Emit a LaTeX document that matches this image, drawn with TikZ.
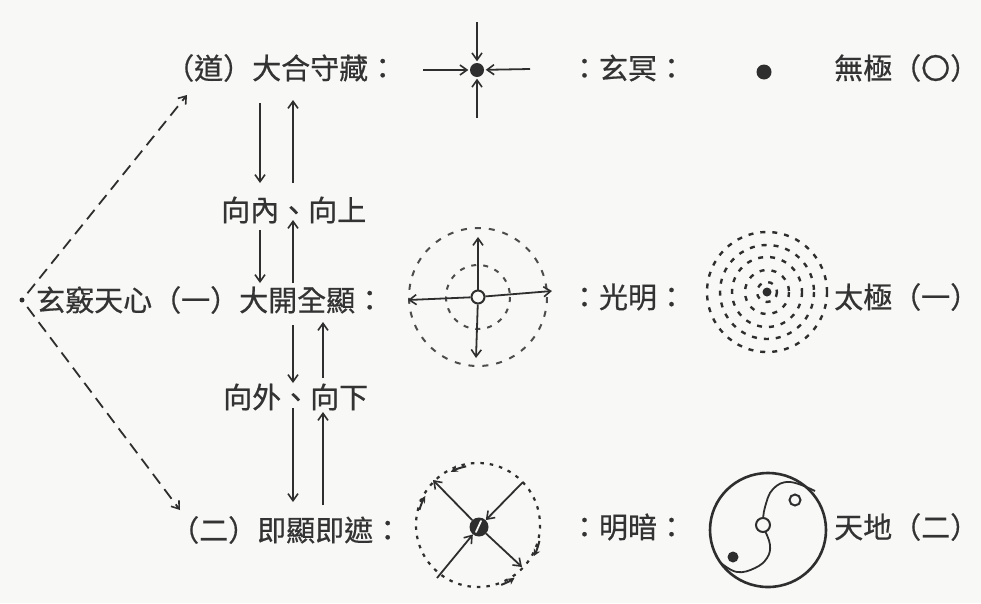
\documentclass[tikz,border=0pt]{standalone}
\usepackage{fontspec}
\newfontfamily\cjk[FakeBold=0.6]{Noto Sans CJK TC}
\usetikzlibrary{arrows.meta}
\definecolor{inkc}{HTML}{2E2E2E}
\definecolor{txtc}{HTML}{333333}
\definecolor{bgc}{HTML}{F8F8F6}
\begin{document}
\begin{tikzpicture}[x=1pt,y=-1pt,
  lbl/.style={font=\cjk\fontsize{29}{31}\selectfont, text=txtc, inner sep=0pt},
  ink/.style={draw=inkc, line width=1.8pt},
  arr/.style={ink, -{Straight Barb[length=7pt,width=10pt,line width=1.6pt]}},
  dasharr/.style={draw=inkc, line width=1.8pt, dash pattern=on 12pt off 7pt,
    -{Straight Barb[length=7pt,width=10pt,line width=1.6pt]}},
  dot/.style={circle, fill=inkc, inner sep=0pt, minimum size=#1},
  ring/.style={circle, draw=inkc, line width=2pt, fill=bgc, inner sep=0pt, minimum size=#1},
  dcirc/.style={draw=inkc!85, line width=2pt, dash pattern=on 6pt off 8pt},
  tring/.style={draw=inkc, line width=2.4pt, dash pattern=on 5pt off 7pt},
  rim/.style={draw=inkc, line width=2.2pt, dash pattern=on 3.5pt off 6pt},
  rimtip/.style={draw=inkc, line width=2pt, -{Stealth[length=7pt,width=7pt]}},
]
\fill[bgc] (0,0) rectangle (981,603);
\useasboundingbox (0,0) rectangle (981,603);

% ---- left column: the three stages ----
\node[dot=5pt] (src) at (22,300) {};
\node[lbl, anchor=west] (dao) at (165,68) {（道）大合守藏：};
\node[lbl, anchor=west] (xq)  at (36,300) {玄竅天心（一）大開全顯：};
\node[lbl, anchor=west] (ji)  at (170,530) {（二）即顯即遮：};
\node[lbl, anchor=west] (nei) at (221,210) {向內、向上};
\node[lbl, anchor=west] (wai) at (223,397) {向外、向下};

% dashed branches from the source point
\coordinate (upE) at (187,95);
\coordinate (dnE) at (180,510);
\draw[dasharr, shorten <=6pt] (src) -- (upE);
\draw[dasharr, shorten <=6pt] (src) -- (dnE);

% vertical arrows between the stages
\coordinate (a1s) at (260,103); \coordinate (a1e) at (260,183);
\coordinate (b1s) at (293,183); \coordinate (b1e) at (293,100);
\coordinate (a2s) at (260,230); \coordinate (a2e) at (260,283);
\coordinate (b2s) at (293,283); \coordinate (b2e) at (293,220);
\coordinate (a3s) at (293,325); \coordinate (a3e) at (293,383);
\coordinate (b3s) at (323,378); \coordinate (b3e) at (323,322);
\coordinate (a4s) at (293,408); \coordinate (a4e) at (293,502);
\coordinate (b4s) at (323,505); \coordinate (b4e) at (323,412);
\foreach \p in {a1,b1,a2,b2,a3,b3,a4,b4} \draw[arr] (\p s) -- (\p e);

% ---- symbol 1: everything drawn inward to a point ----
\node[dot=14pt] (xdot) at (477,70) {};
\coordinate (xl) at (423,70);
\coordinate (xr) at (530,69);
\coordinate (xt) at (477,22);
\coordinate (xb) at (477,118);
\foreach \p in {xl,xr,xt,xb} \draw[arr, shorten >=1.5pt] (\p) -- (xdot);

% ---- symbol 2: radiating outward ----
\draw[dcirc] (478,297) circle[radius=69];
\draw[dcirc, dash pattern=on 5pt off 7pt] (478,297) circle[radius=32];
\node[ring=13pt] (gc) at (478,297) {};
\coordinate (gt) at (478,237);
\coordinate (gl) at (408,300);
\coordinate (gr) at (552,291);
\coordinate (gb) at (476,358);
\foreach \p in {gt,gl,gr,gb} \draw[arr] (gc) -- (\p);

% ---- symbol 3: in and out around a turning rim ----
\draw[rim] (478,525) circle[radius=62];
\node[dot=19pt] (mc) at (479,527) {};
\draw[bgc, line width=1.8pt, line cap=round] (476,532) -- (481,521);
\coordinate (ulE) at (433,480);
\coordinate (urS) at (523,482);
\coordinate (lrE) at (522,567);
\coordinate (llS) at (437,578);
\draw[arr] (mc) -- (ulE);
\draw[arr] (urS) -- (mc);
\draw[arr] (mc) -- (lrE);
\draw[arr] (llS) -- (mc);
\draw[rimtip] (mc.center) ++(-102:62) arc[start angle=-102, end angle=-117, radius=62];
\draw[rimtip] (mc.center) ++(-164:62) arc[start angle=-164, end angle=-150, radius=62];
\draw[rimtip] (mc.center) ++(13:62) arc[start angle=13, end angle=28, radius=62];
\draw[rimtip] (mc.center) ++(69:62) arc[start angle=69, end angle=55, radius=62];

% ---- middle labels ----
\node[lbl] (xm) at (628,68) {：玄冥：};
\node[lbl] (gm) at (628,297) {：光明：};
\node[lbl] (ma) at (628,527) {：明暗：};

% ---- right column: the three figures ----
\node[dot=15pt] (wdot) at (764,72) {};

\foreach \r in {10,22,35,47,60} \draw[tring] (767,292) circle[radius=\r];
\node[dot=9pt] (tdot) at (767,292) {};

\draw[inkc, line width=2.6pt] (768,530) ellipse[x radius=58, y radius=57];
\draw[inkc, line width=1.8pt] plot[smooth, tension=0.7] coordinates
  {(815,491) (790,482) (773,489) (765,507) (763,521)};
\draw[inkc, line width=1.8pt] plot[smooth, tension=0.7] coordinates
  {(765,531) (770,545) (767,558) (755,568) (737,572) (721,563)};
\node[ring=14pt] (ycen) at (763,525) {};
\node[ring=11pt] (yhi) at (795,500) {};
\node[dot=11pt] (ylo) at (733,557) {};

\node[lbl, anchor=west] (wj) at (834,68) {無極（〇）};
\node[lbl, anchor=west] (tj) at (834,297) {太極（一）};
\node[lbl, anchor=west] (td) at (834,527) {天地（二）};
\end{tikzpicture}
\end{document}
